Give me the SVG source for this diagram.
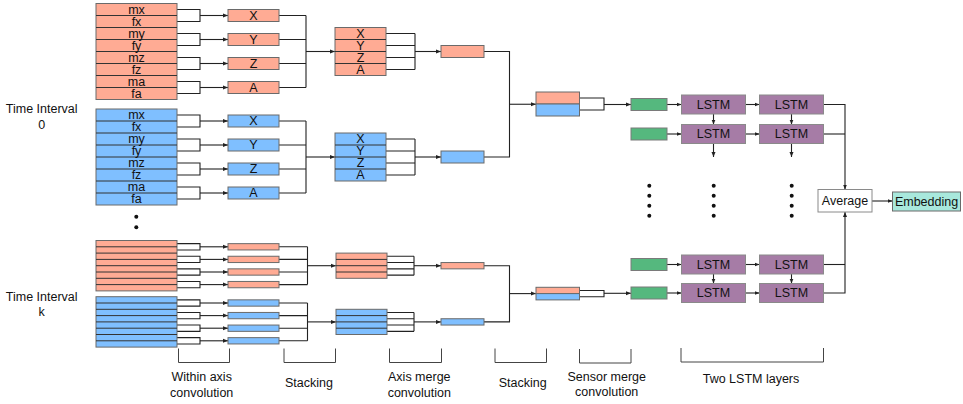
<svg xmlns="http://www.w3.org/2000/svg" width="963" height="404" viewBox="0 0 963 404">
<defs>
<marker id="ah" viewBox="0 0 6 6" refX="6" refY="3" markerWidth="5" markerHeight="5" orient="auto" markerUnits="userSpaceOnUse"><path d="M0,0.6 L6,3 L0,5.4z" fill="#222"/></marker>
<style>
.s{fill:#ffab94;stroke:#6a6a6a;stroke-width:1}
.b{fill:#7fbfff;stroke:#6a6a6a;stroke-width:1}
.g{fill:#55b87e;stroke:#7a7a7a;stroke-width:1}
.l{fill:#a67ca6;stroke:#8a8a8a;stroke-width:1}
.w{fill:#fff;stroke:#8a8a8a;stroke-width:1}
.e{fill:#a8e8dc;stroke:#6a6a6a;stroke-width:1}
.sep{stroke:#333;stroke-width:1;fill:none}
.c{fill:none;stroke:#222;stroke-width:1.1}
.a{fill:none;stroke:#222;stroke-width:1.1;marker-end:url(#ah)}
.br{fill:none;stroke:#444;stroke-width:1}
text{font-family:"Liberation Sans",Arial,Helvetica,sans-serif;font-size:12.5px;fill:#111;text-anchor:middle;dominant-baseline:central}
.dot{fill:#111}
</style>
</defs>
<rect width="963" height="404" fill="#fff"/>

<!-- labels -->
<g id="label-t0"><text x="41.7" y="109">Time Interval</text><text x="41.7" y="124.5">0</text></g>
<g id="label-tk"><text x="41.7" y="296.7">Time Interval</text><text x="41.7" y="311.7">k</text></g>

<!-- connectors -->
<g id="connectors">
<!-- T0 salmon -->
<path class="c" d="M177,9.5H200V21.5H177M177,33.5H200V45.5H177M177,57.5H200V69.5H177M177,81.5H200V93.5H177"/>
<path class="a" d="M200,15.5H228"/><path class="a" d="M200,39.5H228"/><path class="a" d="M200,63.5H228"/><path class="a" d="M200,87.5H228"/>
<path class="c" d="M279,15.5H306M279,39.5H306M279,63.5H306M279,87.5H306M306,15.5V87.5"/>
<path class="a" d="M306,51.5H335"/>
<path class="c" d="M386,33.5H415M386,45.5H415M386,57.5H415M386,69.5H415M415,33.5V69.5"/>
<path class="a" d="M415,51.5H441"/>
<!-- T0 blue -->
<path class="c" d="M177,115H200V127H177M177,139H200V151H177M177,163H200V175H177M177,187H200V199H177"/>
<path class="a" d="M200,121H228"/><path class="a" d="M200,145H228"/><path class="a" d="M200,169H228"/><path class="a" d="M200,193H228"/>
<path class="c" d="M279,121H306M279,145H306M279,169H306M279,193H306M306,121V193"/>
<path class="a" d="M306,157H335"/>
<path class="c" d="M386,139H415M386,151H415M386,163H415M386,175H415M415,139V175"/>
<path class="a" d="M415,157H441"/>
<!-- T0 sensor merge -->
<path class="c" d="M484,51.5H509.5V157H484"/>
<path class="a" d="M509.5,104.25H536"/>
<path class="c" d="M579.5,98H604V110H579.5"/>
<path class="a" d="M604,104.5H631"/>
<!-- Tk salmon -->
<path class="c" d="M177,243.65H200V249.95H177M177,256.25H200V262.55H177M177,268.85H200V275.15H177M177,281.45H200V287.75H177"/>
<path class="a" d="M200,246.8H228"/><path class="a" d="M200,259.4H228"/><path class="a" d="M200,272H228"/><path class="a" d="M200,284.6H228"/>
<path class="c" d="M279,246.8H307.5M279,259.4H307.5M279,272H307.5M279,284.6H307.5M307.5,246.8V284.6"/>
<path class="a" d="M307.5,265.7H336"/>
<path class="c" d="M387,256.25H414M387,262.55H414M387,268.85H414M387,275.15H414M414,256.25V275.15"/>
<path class="a" d="M414,265.7H441"/>
<!-- Tk blue -->
<path class="c" d="M177,299.85H200V306.15H177M177,312.45H200V318.75H177M177,325.05H200V331.35H177M177,337.65H200V343.95H177"/>
<path class="a" d="M200,303H228"/><path class="a" d="M200,315.6H228"/><path class="a" d="M200,328.2H228"/><path class="a" d="M200,340.8H228"/>
<path class="c" d="M279,303H307.5M279,315.6H307.5M279,328.2H307.5M279,340.8H307.5M307.5,303V340.8"/>
<path class="a" d="M307.5,321.9H336"/>
<path class="c" d="M387,312.45H414M387,318.75H414M387,325.05H414M387,331.35H414M414,312.45V331.35"/>
<path class="a" d="M414,321.9H441"/>
<!-- Tk sensor merge -->
<path class="c" d="M484,265.7H509.5V321.9H484"/>
<path class="a" d="M509.5,293.6H536"/>
<path class="c" d="M579.5,290.45H604V296.75H579.5"/>
<path class="a" d="M604,293.3H631"/>
<!-- LSTM -->
<path class="a" d="M667,104.5H681.5"/><path class="a" d="M667,134H681.5"/>
<path class="a" d="M745.5,104.5H759.5"/><path class="a" d="M745.5,134H759.5"/>
<path class="a" d="M713.5,114V124.5"/><path class="a" d="M791.5,114V124.5"/>
<path class="a" d="M713.5,143.5V157"/><path class="a" d="M791.5,143.5V157"/>
<path class="a" d="M667,264.5H681.5"/><path class="a" d="M667,293H681.5"/>
<path class="a" d="M745.5,264.5H759.5"/><path class="a" d="M745.5,293H759.5"/>
<path class="a" d="M713.5,274V283.5"/><path class="a" d="M791.5,274V283.5"/>
<path class="c" d="M823.5,134H845"/>
<path class="a" d="M823.5,104.5H845V189.5"/>
<path class="c" d="M823.5,264.5H845"/>
<path class="a" d="M823.5,293H845V212"/>
<path class="a" d="M872,201H892.5"/>
</g>

<!-- T0 salmon sensor block -->
<g id="t0-sensor-salmon">
<rect class="s" x="96" y="3.5" width="81" height="96"/>
<path class="sep" d="M96,15.5H177M96,27.5H177M96,39.5H177M96,51.5H177M96,63.5H177M96,75.5H177M96,87.5H177"/>
<text x="136.5" y="9.5">mx</text><text x="136.5" y="21.5">fx</text><text x="136.5" y="33.5">my</text><text x="136.5" y="45.5">fy</text>
<text x="136.5" y="57.5">mz</text><text x="136.5" y="69.5">fz</text><text x="136.5" y="81.5">ma</text><text x="136.5" y="93.5">fa</text>
</g>
<g id="t0-salmon-x"><rect class="s" x="228" y="9.5" width="51" height="12"/><text x="253.5" y="15.5">X</text></g>
<g id="t0-salmon-y"><rect class="s" x="228" y="33.5" width="51" height="12"/><text x="253.5" y="39.5">Y</text></g>
<g id="t0-salmon-z"><rect class="s" x="228" y="57.5" width="51" height="12"/><text x="253.5" y="63.5">Z</text></g>
<g id="t0-salmon-a"><rect class="s" x="228" y="81.5" width="51" height="12"/><text x="253.5" y="87.5">A</text></g>
<g id="t0-salmon-stack">
<rect class="s" x="335" y="27.5" width="51" height="48"/>
<path class="sep" d="M335,39.5H386M335,51.5H386M335,63.5H386"/>
<text x="360.5" y="33.5">X</text><text x="360.5" y="45.5">Y</text><text x="360.5" y="57.5">Z</text><text x="360.5" y="69.5">A</text>
</g>
<g id="t0-salmon-merge"><rect class="s" x="441" y="45.5" width="43" height="12"/></g>

<!-- T0 blue sensor block -->
<g id="t0-sensor-blue">
<rect class="b" x="96" y="109" width="81" height="96"/>
<path class="sep" d="M96,121H177M96,133H177M96,145H177M96,157H177M96,169H177M96,181H177M96,193H177"/>
<text x="136.5" y="115">mx</text><text x="136.5" y="127">fx</text><text x="136.5" y="139">my</text><text x="136.5" y="151">fy</text>
<text x="136.5" y="163">mz</text><text x="136.5" y="175">fz</text><text x="136.5" y="187">ma</text><text x="136.5" y="199">fa</text>
</g>
<g id="t0-blue-x"><rect class="b" x="228" y="115" width="51" height="12"/><text x="253.5" y="121">X</text></g>
<g id="t0-blue-y"><rect class="b" x="228" y="139" width="51" height="12"/><text x="253.5" y="145">Y</text></g>
<g id="t0-blue-z"><rect class="b" x="228" y="163" width="51" height="12"/><text x="253.5" y="169">Z</text></g>
<g id="t0-blue-a"><rect class="b" x="228" y="187" width="51" height="12"/><text x="253.5" y="193">A</text></g>
<g id="t0-blue-stack">
<rect class="b" x="335" y="133" width="51" height="48"/>
<path class="sep" d="M335,145H386M335,157H386M335,169H386"/>
<text x="360.5" y="139">X</text><text x="360.5" y="151">Y</text><text x="360.5" y="163">Z</text><text x="360.5" y="175">A</text>
</g>
<g id="t0-blue-merge"><rect class="b" x="441" y="151" width="43" height="12"/></g>
<g id="t0-sensor-stack"><rect class="s" x="536" y="92" width="43.5" height="12"/><rect class="b" x="536" y="104" width="43.5" height="12"/></g>

<g id="dots-left"><circle class="dot" cx="136.3" cy="216.7" r="2"/><circle class="dot" cx="136.3" cy="227.3" r="2"/></g>

<!-- Tk salmon -->
<g id="tk-sensor-salmon">
<rect class="s" x="96" y="240.5" width="81" height="50.4"/>
<path class="sep" d="M96,246.8H177M96,253.1H177M96,259.4H177M96,265.7H177M96,272H177M96,278.3H177M96,284.6H177"/>
</g>
<g id="tk-salmon-1"><rect class="s" x="228" y="243.65" width="51" height="6.3"/></g>
<g id="tk-salmon-2"><rect class="s" x="228" y="256.25" width="51" height="6.3"/></g>
<g id="tk-salmon-3"><rect class="s" x="228" y="268.85" width="51" height="6.3"/></g>
<g id="tk-salmon-4"><rect class="s" x="228" y="281.45" width="51" height="6.3"/></g>
<g id="tk-salmon-stack"><rect class="s" x="336" y="253.1" width="51" height="25.2"/><path class="sep" d="M336,259.4H387M336,265.7H387M336,272H387"/></g>
<g id="tk-salmon-merge"><rect class="s" x="441" y="262.55" width="43" height="6.3"/></g>

<!-- Tk blue -->
<g id="tk-sensor-blue">
<rect class="b" x="96" y="296.7" width="81" height="50.4"/>
<path class="sep" d="M96,303H177M96,309.3H177M96,315.6H177M96,321.9H177M96,328.2H177M96,334.5H177M96,340.8H177"/>
</g>
<g id="tk-blue-1"><rect class="b" x="228" y="299.85" width="51" height="6.3"/></g>
<g id="tk-blue-2"><rect class="b" x="228" y="312.45" width="51" height="6.3"/></g>
<g id="tk-blue-3"><rect class="b" x="228" y="325.05" width="51" height="6.3"/></g>
<g id="tk-blue-4"><rect class="b" x="228" y="337.65" width="51" height="6.3"/></g>
<g id="tk-blue-stack"><rect class="b" x="336" y="309.3" width="51" height="25.2"/><path class="sep" d="M336,315.6H387M336,321.9H387M336,328.2H387"/></g>
<g id="tk-blue-merge"><rect class="b" x="441" y="318.75" width="43" height="6.3"/></g>
<g id="tk-sensor-stack"><rect class="s" x="536" y="287.3" width="43.5" height="6.3"/><rect class="b" x="536" y="293.6" width="43.5" height="6.3"/></g>

<!-- green -->
<g id="green-1"><rect class="g" x="631" y="98.5" width="36" height="12"/></g>
<g id="green-2"><rect class="g" x="631" y="128" width="36" height="12"/></g>
<g id="green-3"><rect class="g" x="631" y="258.5" width="36" height="12"/></g>
<g id="green-4"><rect class="g" x="631" y="287" width="36" height="12"/></g>

<!-- LSTM -->
<g id="lstm-1-1"><rect class="l" x="681.5" y="95" width="64" height="19"/><text x="713.5" y="104.5">LSTM</text></g>
<g id="lstm-1-2"><rect class="l" x="759.5" y="95" width="64" height="19"/><text x="791.5" y="104.5">LSTM</text></g>
<g id="lstm-2-1"><rect class="l" x="681.5" y="124.5" width="64" height="19"/><text x="713.5" y="134">LSTM</text></g>
<g id="lstm-2-2"><rect class="l" x="759.5" y="124.5" width="64" height="19"/><text x="791.5" y="134">LSTM</text></g>
<g id="lstm-3-1"><rect class="l" x="681.5" y="255" width="64" height="19"/><text x="713.5" y="264.5">LSTM</text></g>
<g id="lstm-3-2"><rect class="l" x="759.5" y="255" width="64" height="19"/><text x="791.5" y="264.5">LSTM</text></g>
<g id="lstm-4-1"><rect class="l" x="681.5" y="283.5" width="64" height="19"/><text x="713.5" y="293">LSTM</text></g>
<g id="lstm-4-2"><rect class="l" x="759.5" y="283.5" width="64" height="19"/><text x="791.5" y="293">LSTM</text></g>

<g id="dots-right">
<circle class="dot" cx="649.3" cy="185.7" r="2"/><circle class="dot" cx="649.3" cy="195.7" r="2"/><circle class="dot" cx="649.3" cy="205.7" r="2"/><circle class="dot" cx="649.3" cy="215.7" r="2"/>
<circle class="dot" cx="713.7" cy="185.7" r="2"/><circle class="dot" cx="713.7" cy="195.7" r="2"/><circle class="dot" cx="713.7" cy="205.7" r="2"/><circle class="dot" cx="713.7" cy="215.7" r="2"/>
<circle class="dot" cx="791.7" cy="185.7" r="2"/><circle class="dot" cx="791.7" cy="195.7" r="2"/><circle class="dot" cx="791.7" cy="205.7" r="2"/><circle class="dot" cx="791.7" cy="215.7" r="2"/>
</g>

<g id="average"><rect class="w" x="818" y="189.5" width="54" height="22.5"/><text x="845" y="200.8">Average</text></g>
<g id="embedding"><rect class="e" x="892.5" y="192" width="68" height="19"/><text x="926.5" y="201.5">Embedding</text></g>

<!-- annotations -->
<g id="annotations">
<path class="br" d="M178.5,348.5V362.5H229.5V348.5"/>
<path class="br" d="M284,348.5V362.5H335.5V348.5"/>
<path class="br" d="M389.5,348.5V362.5H441.5V348.5"/>
<path class="br" d="M495,348.5V362.5H546.5V348.5"/>
<path class="br" d="M579.5,349V363H631V349"/>
<path class="br" d="M681,348V362H823.5V348"/>
<text x="201.7" y="377.3">Within axis</text><text x="201.7" y="393.3">convolution</text>
<text x="309" y="382.7">Stacking</text>
<text x="419.3" y="377.3">Axis merge</text><text x="419.3" y="393.3">convolution</text>
<text x="522.7" y="382.7">Stacking</text>
<text x="606.7" y="376.7">Sensor merge</text><text x="606.7" y="391.7">convolution</text>
<text x="751" y="379.3">Two LSTM layers</text>
</g>
</svg>
